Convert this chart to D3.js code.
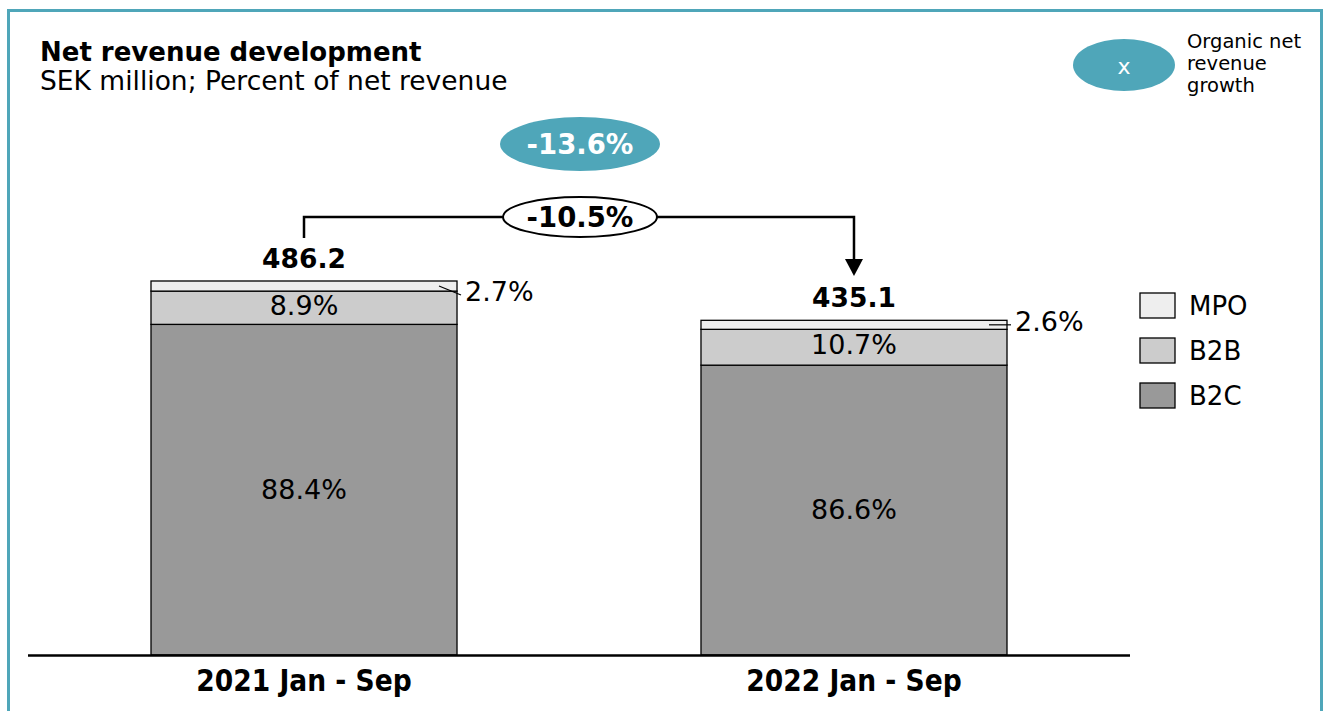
<!DOCTYPE html>
<html>
<head>
<meta charset="utf-8">
<script src="https://cdn.jsdelivr.net/npm/d3@7"></script>
<style>
  html, body { margin: 0; padding: 0; background: #fff; }
  svg { display: block; font-family: "DejaVu Sans", Verdana, sans-serif; }
</style>
</head>
<body>
<div id="chart"></div>
<script>
(function () {
  'use strict';

  // Data
  var periods = ['2021 Jan - Sep', '2022 Jan - Sep'];
  var totals = [486.2, 435.1];
  var segments = ['B2C', 'B2B', 'MPO'];
  var shareB2C = [88.4, 86.6];
  var shareB2B = [8.9, 10.7];
  var shareMPO = [2.7, 2.6];
  var totalLabels = ['486.2', '435.1'];
  var cagrLabel = '-10.5%';
  var organicLabel = '-13.6%';
  var legendOrder = ['MPO', 'B2B', 'B2C'];

  var colors = { B2C: '#999999', B2B: '#cccccc', MPO: '#eeeeee' };
  var teal = '#4fa6b9';

  var W = 1324, H = 711;
  var baseY = 655;

  var svg = d3.select('#chart').append('svg')
    .attr('width', W).attr('height', H);

  // Frame
  svg.append('rect')
    .attr('x', 8.5).attr('y', 10.5)
    .attr('width', 1313).attr('height', 720)
    .attr('fill', 'none').attr('stroke', teal).attr('stroke-width', 3);

  // Title
  svg.append('text').attr('x', 40).attr('y', 61)
    .attr('font-size', 26).attr('font-weight', 'bold').text('Net revenue development');
  svg.append('text').attr('x', 40).attr('y', 90)
    .attr('font-size', 26.5).text('SEK million; Percent of net revenue');

  // Scales
  var x = d3.scaleBand().domain(periods).range([151, 1007]).paddingInner(0.4436).paddingOuter(0);
  var y = d3.scaleLinear().domain([0, 486.2]).range([baseY, 281]);

  // Build stacked rows
  var rows = periods.map(function (p, i) {
    return {
      period: p,
      total: totals[i],
      B2C: totals[i] * shareB2C[i] / 100,
      B2B: totals[i] * shareB2B[i] / 100,
      MPO: totals[i] * shareMPO[i] / 100,
      pct: { B2C: shareB2C[i], B2B: shareB2B[i], MPO: shareMPO[i] }
    };
  });
  // make top land exactly on total
  rows.forEach(function (r) { r.MPO = r.total - r.B2C - r.B2B; });

  var series = d3.stack().keys(segments)(rows);

  var g = svg.append('g');
  series.forEach(function (s) {
    g.selectAll('rect.' + s.key)
      .data(s).enter().append('rect')
      .attr('x', function (d) { return x(d.data.period); })
      .attr('y', function (d) { return y(d[1]); })
      .attr('width', x.bandwidth())
      .attr('height', function (d) { return y(d[0]) - y(d[1]); })
      .attr('fill', colors[s.key])
      .attr('stroke', '#000').attr('stroke-width', 1.3);
  });

  // Inner labels (B2C, B2B)
  ['B2C', 'B2B'].forEach(function (key) {
    var s = series.find(function (d) { return d.key === key; });
    g.selectAll('text.' + key)
      .data(s).enter().append('text')
      .attr('x', function (d) { return x(d.data.period) + x.bandwidth() / 2; })
      .attr('y', function (d) { return (y(d[0]) + y(d[1])) / 2 + (key === 'B2C' ? 9 : 7); })
      .attr('text-anchor', 'middle').attr('font-size', 27)
      .text(function (d) { return d.data.pct[key].toFixed(1) + '%'; });
  });

  // MPO outside labels with leader lines
  var mpo = series.find(function (d) { return d.key === 'MPO'; });
  mpo.forEach(function (d, i) {
    var right = x(d.data.period) + x.bandwidth();
    var my = (y(d[0]) + y(d[1])) / 2;
    var ly = i === 0 ? my + 9 : my;
    g.append('line')
      .attr('x1', right - 18).attr('y1', my)
      .attr('x2', right + 4).attr('y2', ly)
      .attr('stroke', '#000').attr('stroke-width', 1.2);
    g.append('text')
      .attr('x', right + 8).attr('y', ly + 6)
      .attr('font-size', 27)
      .text(d.data.pct.MPO.toFixed(1) + '%');
  });

  // Totals
  g.selectAll('text.total').data(rows).enter().append('text')
    .attr('x', function (d) { return x(d.period) + x.bandwidth() / 2; })
    .attr('y', function (d) { return y(d.total) - 13; })
    .attr('text-anchor', 'middle').attr('font-size', 26.5).attr('font-weight', 'bold')
    .text(function (d, i) { return totalLabels[i]; });

  // Baseline axis
  svg.append('line')
    .attr('x1', 28).attr('x2', 1130).attr('y1', baseY + 0.5).attr('y2', baseY + 0.5)
    .attr('stroke', '#000').attr('stroke-width', 2.5);

  var xAxis = svg.append('g').attr('transform', 'translate(0,' + baseY + ')')
    .call(d3.axisBottom(x).tickSize(0).tickPadding(0));
  xAxis.select('.domain').remove();
  xAxis.selectAll('text')
    .attr('dy', 0).attr('y', 36)
    .attr('font-family', '"DejaVu Sans Condensed", "DejaVu Sans", sans-serif')
    .attr('font-size', 29.5).attr('font-weight', 'bold').attr('fill', '#000');

  // Growth bracket
  var x0 = x(periods[0]) + x.bandwidth() / 2;
  var x1 = x(periods[1]) + x.bandwidth() / 2;
  var topY = 217;
  var mid = 580;
  svg.append('path')
    .attr('d', 'M' + x0 + ',' + 238 + 'V' + topY + 'H' + x1 + 'V' + 262)
    .attr('fill', 'none').attr('stroke', '#000').attr('stroke-width', 2.5);
  svg.append('path')
    .attr('d', 'M' + (x1 - 9) + ',259L' + (x1 + 9) + ',259L' + x1 + ',276Z')
    .attr('fill', '#000');
  svg.append('ellipse')
    .attr('cx', mid).attr('cy', topY).attr('rx', 77).attr('ry', 20)
    .attr('fill', '#fff').attr('stroke', '#000').attr('stroke-width', 2);
  svg.append('text')
    .attr('x', mid).attr('y', topY + 10).attr('text-anchor', 'middle')
    .attr('font-size', 27.5).attr('font-weight', 'bold').text(cagrLabel);

  // Organic bubble
  svg.append('ellipse')
    .attr('cx', mid).attr('cy', 144).attr('rx', 80).attr('ry', 27)
    .attr('fill', teal);
  svg.append('text')
    .attr('x', mid).attr('y', 154).attr('text-anchor', 'middle')
    .attr('font-size', 27.5).attr('font-weight', 'bold').attr('fill', '#fff').text(organicLabel);

  // Organic legend
  svg.append('ellipse')
    .attr('cx', 1124).attr('cy', 65).attr('rx', 51).attr('ry', 26).attr('fill', teal);
  svg.append('text')
    .attr('x', 1124).attr('y', 74).attr('text-anchor', 'middle')
    .attr('font-size', 22).attr('fill', '#fff').text('x');
  ['Organic net', 'revenue', 'growth'].forEach(function (t, i) {
    svg.append('text')
      .attr('x', 1187).attr('y', 48 + i * 22)
      .attr('font-size', 19.5).text(t);
  });

  // Segment legend
  var leg = svg.append('g').attr('transform', 'translate(1140,293)');
  legendOrder.forEach(function (k, i) {
    leg.append('rect')
      .attr('x', 0).attr('y', i * 45).attr('width', 35).attr('height', 25)
      .attr('fill', colors[k]).attr('stroke', '#000').attr('stroke-width', 1.3);
    leg.append('text')
      .attr('x', 49).attr('y', i * 45 + 22)
      .attr('font-size', 26).text(k);
  });
})();
</script>
</body>
</html>
